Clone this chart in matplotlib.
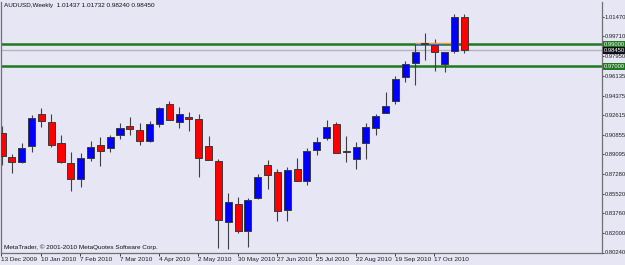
import matplotlib
matplotlib.use("Agg")
import matplotlib.pyplot as plt
import numpy as np

# ---- data (weekly AUDUSD candles) ----
opens  = [0.9105, 0.8880, 0.8835, 0.8988, 0.9276, 0.9204, 0.9015, 0.8826, 0.8682, 0.8871,
          0.8997, 0.8970, 0.9087, 0.9168, 0.9132, 0.9033, 0.9186, 0.9358, 0.9204, 0.9249,
          0.9231, 0.8988, 0.8844, 0.8303, 0.8457, 0.8222, 0.8511, 0.8808, 0.8745, 0.8411,
          0.8772, 0.8664, 0.8952, 0.9060, 0.9186, 0.8936, 0.8862, 0.9015, 0.9150, 0.9285,
          0.9385, 0.9601, 0.9727, 0.9905, 0.9898, 0.9718, 0.9844, 1.01437]
highs  = [0.9168, 0.8907, 0.9015, 0.9267, 0.9330, 0.9276, 0.9087, 0.8925, 0.8916, 0.9033,
          0.9069, 0.9087, 0.9195, 0.9249, 0.9195, 0.9213, 0.9339, 0.9385, 0.9339, 0.9294,
          0.9276, 0.9078, 0.8862, 0.8556, 0.8520, 0.8511, 0.8727, 0.8853, 0.8772, 0.8790,
          0.8871, 0.8970, 0.9069, 0.9222, 0.9204, 0.9078, 0.9024, 0.9195, 0.9276, 0.9466,
          0.9610, 0.9745, 0.9916, 1.0000, 0.9952, 0.9835, 1.0177, 1.01732]
lows   = [0.8808, 0.8736, 0.8826, 0.8925, 0.9159, 0.8979, 0.8830, 0.8574, 0.8610, 0.8844,
          0.8799, 0.8925, 0.9051, 0.9087, 0.8997, 0.9024, 0.9159, 0.9222, 0.9150, 0.9123,
          0.8700, 0.8853, 0.8069, 0.8060, 0.8204, 0.8078, 0.8502, 0.8592, 0.8312, 0.8312,
          0.8664, 0.8628, 0.8898, 0.9042, 0.8916, 0.8835, 0.8772, 0.8862, 0.9087, 0.9285,
          0.9358, 0.9556, 0.9529, 0.9754, 0.9655, 0.9646, 0.9817, 0.98240]
closes = [0.8889, 0.8835, 0.8970, 0.9240, 0.9213, 0.8997, 0.8835, 0.8682, 0.8871, 0.8979,
          0.8943, 0.9069, 0.9150, 0.9141, 0.9033, 0.9186, 0.9323, 0.9222, 0.9276, 0.9231,
          0.8871, 0.8853, 0.8321, 0.8475, 0.8222, 0.8493, 0.8700, 0.8718, 0.8402, 0.8763,
          0.8664, 0.8943, 0.9024, 0.9159, 0.8916, 0.8932, 0.8979, 0.9159, 0.9258, 0.9348,
          0.9583, 0.9718, 0.9835, 0.9910, 0.9826, 0.9826, 1.0144, 0.98450]

date_labels = ["13 Dec 2009", "10 Jan 2010", "7 Feb 2010", "7 Mar 2010", "4 Apr 2010",
               "2 May 2010", "30 May 2010", "27 Jun 2010", "25 Jul 2010", "22 Aug 2010",
               "19 Sep 2010", "17 Oct 2010"]
date_bar_index = [0, 4, 8, 12, 16, 20, 24, 28, 32, 36, 40, 44]

price_ticks = [1.01470, 0.99710, 0.97950, 0.96135, 0.94375, 0.92615, 0.90855,
               0.89095, 0.87280, 0.85520, 0.83760, 0.82000, 0.80240]

levels = [0.99000, 0.97000]          # green horizontal lines
bid_price = 0.98450
seg_orange = (0.9911, 42, 45.8)      # price, from bar, to bar
seg_blue = (0.9902, 42, 44.8)

title = "AUDUSD,Weekly  1.01437 1.01732 0.98240 0.98450"
copyright_txt = "MetaTrader, \u00a9 2001-2010 MetaQuotes Software Corp."

# ---- figure ----
W, H = 625, 265
bg = "#E6E6F5"
plt.rcParams['font.family'] = ['Liberation Sans Narrow', 'Liberation Sans', 'DejaVu Sans']
fig = plt.figure(figsize=(W / 100, H / 100), dpi=100, facecolor=bg)
ax = fig.add_axes([1.5 / W, 12.5 / H, (602 - 1.5) / W, (263 - 12.5) / H])
ax.set_facecolor(bg)
fs = 4.6
fs_y = 4.2

x = np.arange(len(opens))
o = np.array(opens); c = np.array(closes)
up = c >= o
colors = np.where(up, "#0000FF", "#FF0000")
bottoms = np.minimum(o, c)
heights = np.maximum(np.abs(c - o), 0.00025)

ax.vlines(x, lows, highs, color="#404040", lw=0.8, zorder=2)
ax.bar(x, heights, bottom=bottoms, width=0.72, color=colors,
       edgecolor="#3a3a3a", linewidth=0.7, zorder=3)

# horizontal levels
for lv in levels:
    ax.axhline(lv, color="#1f7a1f", lw=1.8, zorder=1)
ax.axhline(bid_price, color="#b4b4bc", lw=1.0, zorder=1)
ax.hlines(seg_orange[0], seg_orange[1], seg_orange[2], color="#F0A030", lw=1.0, zorder=2)
ax.hlines(seg_blue[0], seg_blue[1], seg_blue[2], color="#4060F0", lw=0.8, zorder=2)

ax.set_xlim(-0.02, 61.0)
ax.set_ylim(0.8024, 1.0281)

# axes styling
ax.spines["top"].set_visible(False)
for s in ["left", "right", "bottom"]:
    ax.spines[s].set_color("#707070")
    ax.spines[s].set_linewidth(0.9)

ax.yaxis.tick_right()
ax.set_yticks(price_ticks)
ax.set_yticklabels([f"{v:.5f}" for v in price_ticks])
ax.tick_params(axis="y", length=1.5, pad=0.6, labelsize=fs_y, colors="#202020", width=0.6)

ax.set_xticks([i - 0.05 for i in date_bar_index])
ax.set_xticklabels(date_labels)
ax.tick_params(axis="x", length=2.5, pad=1.0, labelsize=fs, colors="#202020", width=0.6)
for lab in ax.get_xticklabels():
    lab.set_ha("left")

# right-side price boxes
def price_box(val, fc):
    ax.annotate(f"{val:.5f}", xy=(1.0, val), xycoords=("axes fraction", "data"),
                xytext=(1.3, 0), textcoords="offset points", ha="left", va="center",
                fontsize=fs_y, color="white", zorder=10, annotation_clip=False,
                bbox=dict(boxstyle="square,pad=0.2", fc=fc, ec="none"))

for lv in levels:
    price_box(lv, "#1f7a1f")
price_box(bid_price, "#101018")

fig.text(4 / W, 1 - 6 / H, title, fontsize=fs, color="#101010", ha="left", va="center")
fig.text(4 / W, 1 - 247.5 / H, copyright_txt, fontsize=fs, color="#101010", ha="left", va="center")

fig.savefig("out.png", dpi=100, facecolor=bg)
